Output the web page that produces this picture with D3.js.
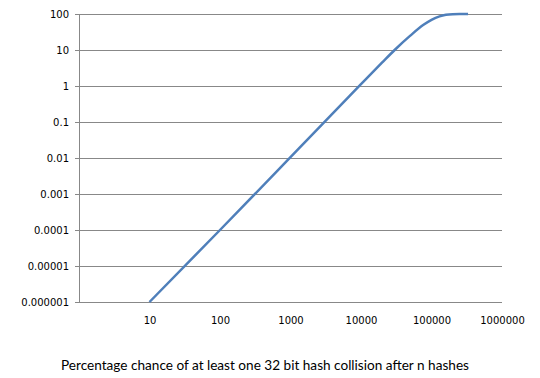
<!DOCTYPE html>
<html>
<head>
<meta charset="utf-8">
<script src="https://cdn.jsdelivr.net/npm/d3@7"></script>
<style>
    body { margin: 0; background: #fff; }
    .axis text { font-family: "DejaVu Sans", Verdana, sans-serif; font-size: 10px; fill: #000; }
</style>
</head>
<body>
<div id="chart"></div>
<script>
// n hashes and percentage chance of collision
var hashes = [10, 100, 1000, 10000, 20000, 30000, 50000, 77000, 100000, 130000, 160000, 200000, 250000, 330000];
var percents = [0.000001, 0.0001, 0.0105, 1.12, 4.5, 10, 25, 50, 69, 86, 95, 99, 99.9, 100];
var xTicks = [10, 100, 1000, 10000, 100000, 1000000];
var yTicks = [0.000001, 0.00001, 0.0001, 0.001, 0.01, 0.1, 1, 10, 100];
var yLabels = ["0.000001", "0.00001", "0.0001", "0.001", "0.01", "0.1", "1", "10", "100"];
var title = "Percentage chance of at least one 32 bit hash collision after n hashes";

function draw() {
    "use strict";
    var width = 540, height = 378;
    var left = 79, right = 502, top = 14, bottom = 302;

    var points = hashes.map(function (n, i) { return { x: n, y: percents[i] }; });

    var svg = d3.select("#chart").append("svg")
        .attr("width", width)
        .attr("height", height);

    var xScale = d3.scaleLog().domain([1, 1000000]).range([left, right]);
    var yScale = d3.scaleLog().domain([0.000001, 100]).range([bottom, top]);

    // horizontal gridlines with left ticks
    var yAxis = d3.axisLeft(yScale)
        .tickValues(yTicks)
        .tickFormat(function (d, i) { return yLabels[i]; })
        .tickSizeInner(-(right - left))
        .tickSizeOuter(0)
        .tickPadding(10);

    var gy = svg.append("g")
        .attr("class", "y axis")
        .attr("transform", "translate(" + left + ",0)")
        .call(yAxis);
    gy.select(".domain").attr("stroke", "#888");
    gy.selectAll(".tick line").attr("stroke", "#888").attr("x1", -4);

    // x labels only, the bottom gridline acts as the axis
    var xAxis = d3.axisBottom(xScale)
        .tickValues(xTicks)
        .tickFormat(d3.format("d"))
        .tickSize(0)
        .tickPadding(15);

    var gx = svg.append("g")
        .attr("class", "x axis")
        .attr("transform", "translate(0," + bottom + ")")
        .call(xAxis);
    gx.select(".domain").remove();

    var line = d3.line()
        .x(function (d) { return xScale(d.x); })
        .y(function (d) { return yScale(d.y); })
        .curve(d3.curveMonotoneX);

    svg.append("path")
        .datum(points)
        .attr("d", line)
        .attr("fill", "none")
        .attr("stroke", "#4f7fba")
        .attr("stroke-width", 2.5);

    svg.append("text")
        .attr("x", 265)
        .attr("y", 370)
        .attr("text-anchor", "middle")
        .style("font-family", "Lato, 'Open Sans', sans-serif")
        .style("font-size", "13.6px")
        .text(title);
}

draw();
</script>
</body>
</html>
